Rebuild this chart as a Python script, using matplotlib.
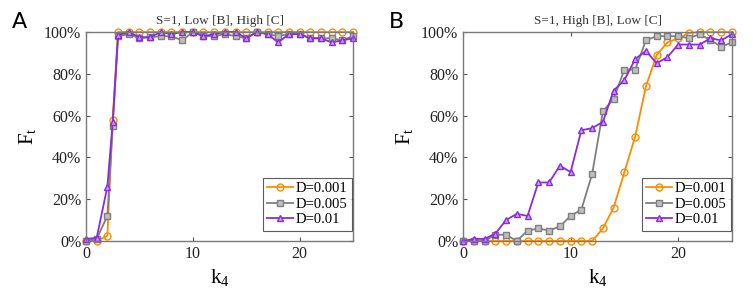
import matplotlib
matplotlib.use('Agg')
import matplotlib.pyplot as plt
from matplotlib.ticker import FuncFormatter

# panel A: k4 samples include an extra point at 2.5
k4_a = [0, 1, 2, 2.5, 3, 4, 5, 6, 7, 8, 9, 10, 11, 12, 13, 14, 15, 16, 17, 18, 19, 20, 21, 22, 23, 24, 25]
a_d001 = [0, 0, 2.5, 58, 100, 100, 100, 100, 100, 100, 100, 100, 100, 100, 100, 100, 100, 100, 100, 100, 100, 100, 100, 100, 100, 100, 100]
a_d005 = [0, 1, 12, 55, 98, 99, 97, 97.5, 98, 98, 96, 100, 98, 98, 99, 98, 97, 100, 99, 98, 99, 99, 97, 97, 97, 96, 98]
a_d01 = [1, 1.5, 26, 57, 98.5, 100, 97.5, 97.5, 100, 99, 100, 100, 98, 99, 100, 100, 97, 100, 99, 95, 99, 99, 97, 97, 95, 96, 97]

# panel B
k4_b = list(range(26))
b_d001 = [0, 0, 0, 0, 0, 0, 0, 0, 0, 0, 0, 0, 0, 6, 16, 33, 50, 74, 89, 95, 97, 99.5, 100, 100, 100, 100]
b_d005 = [0, 0, 0, 3, 3, 0, 5, 6, 5, 7, 12, 15, 32, 62, 68, 82, 82, 96, 98, 98, 98, 97, 99, 96, 93, 95]
b_d01 = [0, 1, 1, 3.5, 10, 13, 12, 28, 28, 36, 33, 53, 54, 57, 72, 77, 87, 91, 85, 88, 94, 94, 94, 97, 96, 99]

labels = ['D=0.001', 'D=0.005', 'D=0.01']
titles = ['S=1, Low [B], High [C]', 'S=1, High [B], Low [C]']
panel_tags = ['A', 'B']

plt.rcParams['font.family'] = ['Liberation Serif', 'DejaVu Serif']
plt.rcParams['mathtext.fontset'] = 'custom'
plt.rcParams['mathtext.rm'] = 'Liberation Serif'
plt.rcParams['mathtext.it'] = 'Liberation Serif'

fig = plt.figure(figsize=(7.53, 3.03), dpi=100)
ax_a = fig.add_axes([86 / 753, 1 - 241 / 303, 267 / 753, 209 / 303])
ax_b = fig.add_axes([463 / 753, 1 - 241 / 303, 269 / 753, 209 / 303])

styles = [
    dict(color='#FF8C00', marker='o', mfc='none', mec='#FF8C00'),
    dict(color='#7F7F7F', marker='s', mfc='#BFBFBF', mec='#7F7F7F'),
    dict(color='#8A2BE2', marker='^', mfc='#C9A0F0', mec='#8A2BE2'),
]

panels = [
    (ax_a, k4_a, [a_d001, a_d005, a_d01]),
    (ax_b, k4_b, [b_d001, b_d005, b_d01]),
]

for i, (ax, x, series) in enumerate(panels):
    for ys, st, lab in zip(series, styles, labels):
        ax.plot(x, ys, lw=1.3, ms=5, mew=1.0, label=lab, clip_on=False, **st)
    ax.set_xlim(0, 25)
    ax.set_ylim(0, 100)
    ax.set_xticks([0, 10, 20])
    ax.set_yticks([0, 20, 40, 60, 80, 100])
    ax.yaxis.set_major_formatter(FuncFormatter(lambda v, p: f'{v:.0f}%'))
    ax.tick_params(direction='in', length=3, width=0.8, top=True, right=True,
                   labelsize=11.5, colors='#555555', labelcolor='#222222')
    for sp in ax.spines.values():
        sp.set_color('#7a7a7a')
        sp.set_linewidth(1.0)
    ax.set_xlabel('k$_4$', fontsize=15, labelpad=4)
    ax.set_ylabel('F$_\\mathrm{t}$', fontsize=15, labelpad=4)
    ax.set_title(titles[i], fontsize=9.5, color='#333333', pad=6)
    leg = ax.legend(loc='lower right', bbox_to_anchor=(0.997, 0.05), fontsize=10.5,
                    frameon=True, fancybox=False, borderpad=0.3, labelspacing=0.15,
                    handlelength=1.8, handletextpad=0.2, borderaxespad=0.0)
    leg.get_frame().set_edgecolor('#333333')
    leg.get_frame().set_linewidth(0.8)
    fig.text(ax.get_position().x0 - 74 / 753, 1 - 12 / 303, panel_tags[i], fontsize=16,
             family='DejaVu Sans', va='top', ha='left')

fig.savefig('out.png', dpi=100)
